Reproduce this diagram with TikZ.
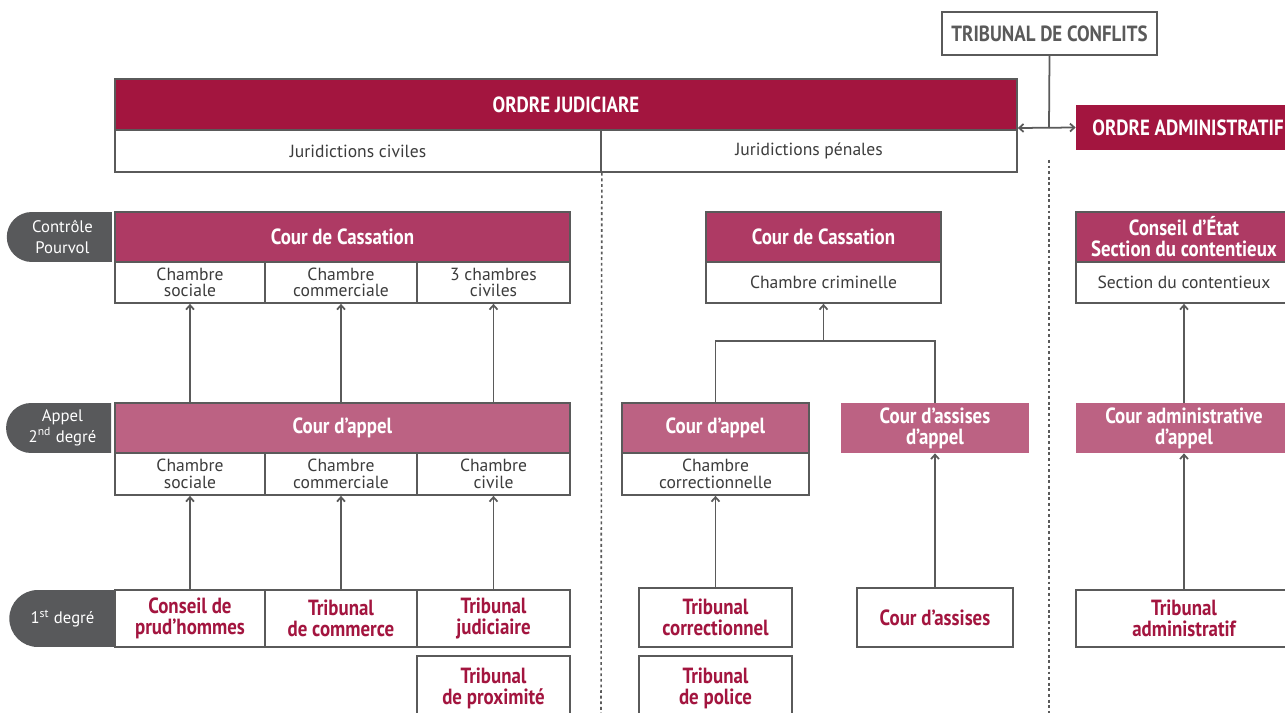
\documentclass[tikz,border=0pt]{standalone}
\usepackage{fontspec}
\setmainfont{PT Sans}
\newfontfamily\condfont[FakeStretch=0.86]{PT Sans}
\usetikzlibrary{shapes.misc,arrows.meta}

\definecolor{ordreRed}{HTML}{A3153F}
\definecolor{cassRed}{HTML}{AE3A64}
\definecolor{appelPink}{HTML}{BC6283}
\definecolor{lineGrey}{HTML}{5A5A5A}
\definecolor{pillGrey}{HTML}{58595B}
\definecolor{textGrey}{HTML}{3C3C3C}

\newcommand\boldcond{\condfont\bfseries\fontsize{12.5}{12}\selectfont}
\newcommand\chambertext{\fontsize{10}{9.5}\selectfont}

\tikzset{
	>={Straight Barb[length=2.5pt,width=4.5pt]},
	band/.style={draw=lineGrey, line width=1pt, fill=#1, text=white, font=\boldcond, inner sep=0pt, align=center},
	flatband/.style={fill=#1, text=white, font=\boldcond, inner sep=0pt, align=center},
	chamber/.style={draw=lineGrey, line width=1pt, fill=white, text=textGrey, font=\chambertext, inner sep=0pt, align=center},
	court/.style={draw=lineGrey, line width=1pt, fill=white, text=ordreRed, font=\boldcond, inner sep=0pt, align=center},
	degree/.style={rounded rectangle, rounded rectangle right arc=none, fill=pillGrey, text=white, font=\fontsize{9.5}{12}\selectfont, inner sep=0pt, align=center, minimum width=2.1cm},
	link/.style={lineGrey, line width=1pt},
	divider/.style={lineGrey, line width=0.9pt, dash pattern=on 1.6pt off 1.6pt},
}

\begin{document}
\begin{tikzpicture}[x=0.02cm,y=-0.02cm]
	\useasboundingbox (0,0) rectangle (1285,713);

	% en-tete
	\node[court, text=lineGrey, minimum width=4.3cm, minimum height=0.86cm] (conflits) at (1049.5,33.5) {TRIBUNAL DE CONFLITS};
	\node[band=ordreRed, minimum width=18.04cm, minimum height=1.02cm] (ojBand) at (566,104.5) {ORDRE JUDICIARE};
	\node[chamber, minimum width=9.72cm, minimum height=0.84cm] (jCiv) at (358,151) {Juridictions civiles};
	\node[chamber, minimum width=8.32cm, minimum height=0.84cm] (jPen) at (809,151) {Juridictions pénales};
	\node[flatband=ordreRed, minimum width=4.48cm, minimum height=0.9cm] (oa) at (1188,127.5) {ORDRE ADMINISTRATIF};

	% degres
	\node[degree, minimum height=1cm] (pillCass) at (62.5,237) {Contrôle\\Pourvol};
	\node[degree, minimum height=1cm] (pillApp) at (62.5,428) {Appel\\2\textsuperscript{nd} degré};
	\node[degree, minimum height=1.14cm] (pillFirst) at (62.5,618.5) {1\textsuperscript{st} degré};

	% juridictions civiles
	\node[band=cassRed, minimum width=9.1cm, minimum height=1cm] (cassCiv) at (342.5,237) {Cour de Cassation};
	\node[chamber, minimum width=3cm, minimum height=0.82cm] (cassSoc) at (190,282.5) {Chambre\\sociale};
	\node[chamber, minimum width=3.04cm, minimum height=0.82cm] (cassCom) at (341,282.5) {Chambre\\commerciale};
	\node[chamber, minimum width=3.06cm, minimum height=0.82cm] (cassCivl) at (493.5,282.5) {3 chambres\\civiles};
	\node[band=appelPink, minimum width=9.1cm, minimum height=1cm] (appCiv) at (342.5,428) {Cour d’appel};
	\node[chamber, minimum width=3cm, minimum height=0.84cm] (appSoc) at (190,474) {Chambre\\sociale};
	\node[chamber, minimum width=3.04cm, minimum height=0.84cm] (appCom) at (341,474) {Chambre\\commerciale};
	\node[chamber, minimum width=3.06cm, minimum height=0.84cm] (appCivl) at (493.5,474) {Chambre\\civile};
	\node[court, minimum width=3cm, minimum height=1.14cm] (cph) at (190,618.5) {Conseil de\\prud’hommes};
	\node[court, minimum width=3.04cm, minimum height=1.14cm] (tcom) at (341,618.5) {Tribunal\\de commerce};
	\node[court, minimum width=3.06cm, minimum height=1.14cm] (tjud) at (493.5,618.5) {Tribunal\\judiciaire};
	\node[court, minimum width=3.06cm, minimum height=1.28cm] (tprox) at (493.5,688) {Tribunal\\de proximité};

	% juridictions penales
	\node[band=cassRed, minimum width=4.7cm, minimum height=1cm] (cassCrim) at (823.5,237) {Cour de Cassation};
	\node[chamber, minimum width=4.7cm, minimum height=0.82cm] (crimSub) at (823.5,282.5) {Chambre criminelle};
	\node[band=appelPink, minimum width=3.74cm, minimum height=1cm] (appPen) at (715.5,428) {Cour d’appel};
	\node[chamber, minimum width=3.74cm, minimum height=0.84cm] (appCorr) at (715.5,474) {Chambre\\correctionnelle};
	\node[flatband=appelPink, minimum width=3.76cm, minimum height=1cm] (assApp) at (935,428) {Cour d’assises\\d’appel};
	\node[court, minimum width=3.06cm, minimum height=1.18cm] (tcorr) at (715.5,617.5) {Tribunal\\correctionnel};
	\node[court, minimum width=3.06cm, minimum height=1.28cm] (tpol) at (715.5,688) {Tribunal\\de police};
	\node[court, minimum width=3.12cm, minimum height=1.18cm] (cass) at (935,617.5) {Cour d’assises};

	% ordre administratif
	\node[band=cassRed, minimum width=4.32cm, minimum height=1cm] (ceBand) at (1184,237) {Conseil d’État\\Section du contentieux};
	\node[chamber, minimum width=4.32cm, minimum height=0.82cm] (ceSub) at (1184,282.5) {Section du contentieux};
	\node[flatband=appelPink, minimum width=4.32cm, minimum height=1cm] (admApp) at (1184,428) {Cour administrative\\d’appel};
	\node[court, minimum width=4.32cm, minimum height=1.14cm] (tadm) at (1184,618.5) {Tribunal\\administratif};

	% separations
	\draw[divider] (jCiv.south east) -- (601,713);
	\draw[divider] (1049,160) -- (1049,713);

	% liens
	\coordinate (tcJoin) at (1049,128);
	\draw[link] (conflits.south) -- (tcJoin);
	\draw[link,<->] (tcJoin -| jPen.east) -- (oa.west);

	\draw[link,->] (cassSoc.south |- appCiv.north) -- (cassSoc.south);
	\draw[link,->] (cassCom.south |- appCiv.north) -- (cassCom.south);
	\draw[link,->] (cassCivl.south |- appCiv.north) -- (cassCivl.south);
	\draw[link,->] (cph.north) -- (appSoc.south);
	\draw[link,->] (tcom.north) -- (appCom.south);
	\draw[link,->] (tjud.north) -- (appCivl.south);

	\coordinate (crimJoin) at (823.5,341);
	\draw[link] (appPen.north) |- (crimJoin) -| (assApp.north);
	\draw[link,->] (crimJoin) -- (crimSub.south);
	\draw[link,->] (tcorr.north) -- (appCorr.south);
	\draw[link,->] (cass.north) -- (assApp.south);

	\draw[link,->] (admApp.north) -- (ceSub.south);
	\draw[link,->] (tadm.north) -- (admApp.south);
\end{tikzpicture}
\end{document}
